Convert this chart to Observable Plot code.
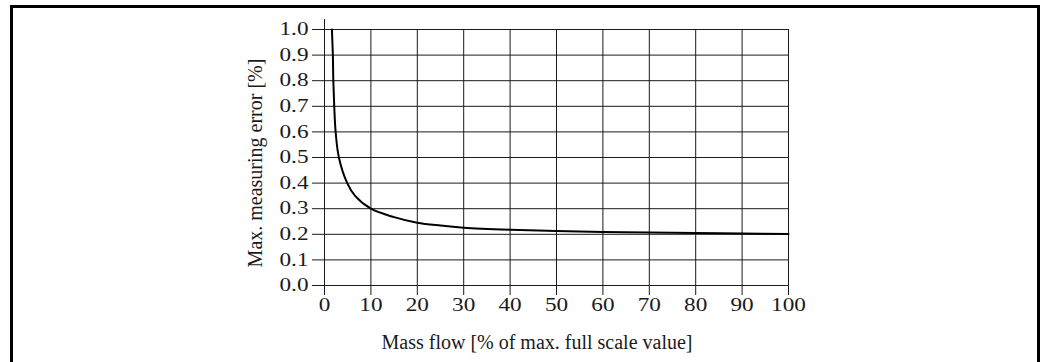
<!DOCTYPE html>
<html>
<head>
<meta charset="utf-8">
<script src="https://cdn.jsdelivr.net/npm/d3@7"></script>
<script src="https://cdn.jsdelivr.net/npm/@observablehq/plot@0.6"></script>
<style>
  html, body { margin: 0; padding: 0; background: #fff; overflow: hidden; }
  #wrap { position: relative; width: 1044px; height: 362px; overflow: hidden; }
  #border { position: absolute; left: 10px; top: 5px; width: 1024px; height: 400px;
            border-left: 3px solid #000; border-top: 3px solid #000; border-right: 3px solid #000;
            pointer-events: none; }
</style>
</head>
<body>
<div id="wrap"><div id="border"></div></div>
<script>
// Data
const flow  = [1.6, 1.8, 1.9, 2.1, 2.4, 3.1, 4.9, 6.6, 10, 15, 20, 25, 30, 40, 50, 60, 70, 80, 90, 100];
const error = [1.0, 0.9, 0.8, 0.7, 0.6, 0.5, 0.4, 0.35, 0.3, 0.267, 0.245, 0.234, 0.226, 0.218, 0.213, 0.209, 0.207, 0.205, 0.203, 0.201];
const xTicks = [0, 10, 20, 30, 40, 50, 60, 70, 80, 90, 100];
const yTicks = [0.0, 0.1, 0.2, 0.3, 0.4, 0.5, 0.6, 0.7, 0.8, 0.9, 1.0];
const xTitle = "Mass flow [% of max. full scale value]";
const yTitle = "Max. measuring error [%]";

const data = flow.map((f, i) => ({flow: f, error: error[i]}));
const ink = "#1a1a1a";

const chart = Plot.plot({
  width: 1044,
  height: 362,
  marginLeft: 324,
  marginRight: 256,
  marginTop: 29,
  marginBottom: 77,
  style: {fontFamily: "'Liberation Serif', serif", fontSize: "18px", color: ink, background: "transparent"},
  x: {domain: [0, 100]},
  y: {domain: [0, 1]},
  marks: [
    Plot.ruleY(yTicks, {stroke: ink, strokeWidth: 1}),
    Plot.ruleX(xTicks, {stroke: ink, strokeWidth: 1}),
    Plot.ruleX(xTicks.slice(0, 1), {stroke: ink, strokeWidth: 1, insetTop: -10}),
    Plot.axisX({ticks: xTicks, tickSize: 10, tickPadding: 3, tickFormat: d => String(d), label: null, stroke: ink, fontSize: 18}),
    Plot.axisY({ticks: yTicks, tickSize: 12, tickPadding: 4, tickFormat: d3.format(".1f"), label: null, stroke: ink, fontSize: 18}),
    Plot.line(data, {x: "flow", y: "error", curve: "catmull-rom", stroke: "#000", strokeWidth: 2}),
    Plot.text([xTitle], {text: d => d, frameAnchor: "bottom", lineAnchor: "middle", dy: 57.5, dx: -19.5, fill: ink, fontSize: 20, ariaLabel: "x-title"}),
    Plot.text([yTitle], {text: d => d, frameAnchor: "left", rotate: -90, lineAnchor: "middle", textAnchor: "middle", dx: -68.5, dy: 5.5, fill: ink, fontSize: 20, ariaLabel: "y-title"})
  ]
});
document.getElementById("wrap").insertBefore(chart, document.getElementById("border"));

// Widen tick digits to match the reference typeface
chart.querySelectorAll('g[aria-label="x-axis tick label"] text, g[aria-label="y-axis tick label"] text').forEach(t => {
  const tr = t.getAttribute("transform") || "";
  t.setAttribute("transform", tr + " scale(1.29,1)");
});
// Fit axis titles to the reference lengths
const fit = (sel, len) => chart.querySelectorAll(sel).forEach(t => {
  t.setAttribute("textLength", len);
  t.setAttribute("lengthAdjust", "spacingAndGlyphs");
});
fit('g[aria-label="x-title"] text', 295);
fit('g[aria-label="y-title"] text', 209);
</script>
</body>
</html>
